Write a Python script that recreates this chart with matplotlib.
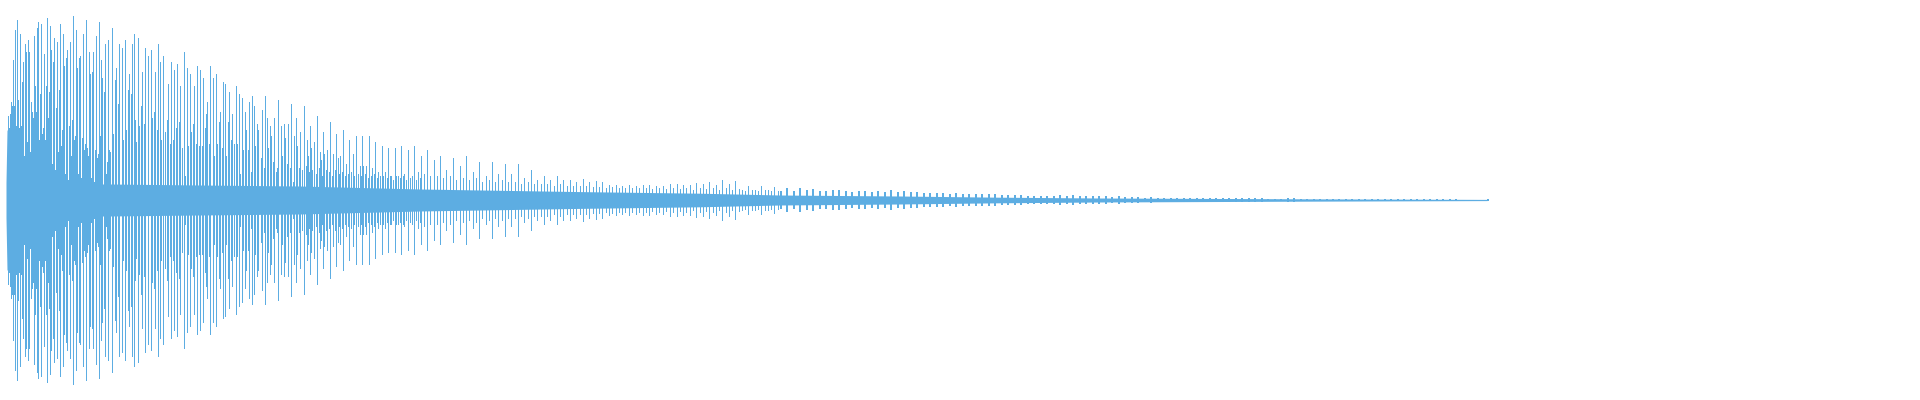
#!/usr/bin/env python3
"""
Waveform strip: per-column peak amplitudes drawn as thin vertical bars
around a zero line, on a blank 1920x400 canvas (no axes, no text).
"""

import numpy as np
import matplotlib
matplotlib.use("Agg")
import matplotlib.pyplot as plt

WAVE_COLOR = "#5DADE2"

# attack: one amplitude per sample column (0..1 of full scale), columns 6..109
attack_start = 6
attack_amp = [
    0.09, 0.42, 0.36, 0.43, 0.49, 0.47, 0.70, 0.47, 0.85, 0.37,
    0.90, 0.50, 0.36, 0.83, 0.37, 0.59, 0.69, 0.22, 0.78, 0.74,
    0.29, 0.80, 0.74, 0.24, 0.49, 0.44, 0.41, 0.82, 0.57, 0.44,
    0.86, 0.89, 0.30, 0.53, 0.88, 0.33, 0.36, 0.73, 0.30, 0.57,
    0.91, 0.41, 0.54, 0.87, 0.75, 0.18, 0.69, 0.81, 0.15, 0.46,
    0.79, 0.24, 0.55, 0.88, 0.27, 0.35, 0.83, 0.67, 0.13, 0.71,
    0.75, 0.10, 0.37, 0.79, 0.22, 0.40, 0.92, 0.30, 0.32, 0.85,
    0.66, 0.13, 0.71, 0.72, 0.11, 0.31, 0.83, 0.25, 0.28, 0.90,
    0.26, 0.22, 0.74, 0.63, 0.11, 0.64, 0.74, 0.09, 0.25, 0.82,
    0.21, 0.23, 0.89, 0.32, 0.70, 0.61, 0.06, 0.54, 0.78, 0.13,
    0.19, 0.80, 0.25, 0.24,
]

# decay: peak columns and their amplitudes
peak_x = [
    111, 112, 114, 115, 117, 118, 121, 122, 124, 125, 127, 128, 130, 131, 133,
    134, 135, 137, 138, 140, 141, 143, 144, 147, 150, 151, 153, 154, 156, 157,
    159, 160, 162, 164, 166, 167, 169, 170, 172, 173, 175, 176, 178, 179, 181,
    183, 184, 186, 187, 189, 190, 192, 193, 195, 196, 198, 199, 201, 202, 204,
    205, 206, 208, 209, 212, 213, 215, 216, 218, 219, 221, 222, 224, 225, 227,
    228, 230, 231, 233, 235, 236, 238, 239, 241, 242, 244, 245, 247, 248, 250,
    251, 253, 254, 256, 257, 260, 261, 263, 264, 266, 267, 269, 270, 272, 273,
    275, 276, 277, 280, 281, 283, 284, 286, 287, 289, 290, 292, 293, 295, 296,
    298, 299, 303, 306, 307, 309, 310, 313, 316, 319, 320, 322, 323, 326, 329,
    332, 335, 337, 339, 342, 345, 348, 352, 355, 359, 361, 362, 365, 368, 371,
    374, 377, 381, 384, 387, 390, 394, 397, 400, 403, 407, 413, 417, 420, 426,
    433, 439, 445, 452, 459, 465, 472, 478, 485, 491, 497, 504, 510, 517, 523,
    530, 536, 543, 549, 556, 562, 569, 575, 582, 588, 595, 601, 608, 615, 621,
    628, 635, 642, 648, 655, 662, 669, 676, 682, 689, 695, 702, 708, 715, 721,
    728, 734, 741, 747, 754, 760, 767, 773,
]
peak_amp = [
    0.86, 0.33, 0.60, 0.66, 0.48, 0.78, 0.76, 0.30, 0.80, 0.35, 0.55, 0.63, 0.53, 0.78, 0.83,
    0.40, 0.29, 0.81, 0.37, 0.47, 0.64, 0.38, 0.76, 0.72, 0.75, 0.41, 0.44, 0.64, 0.35, 0.78,
    0.69, 0.30, 0.72, 0.34, 0.40, 0.58, 0.28, 0.69, 0.30, 0.65, 0.36, 0.68, 0.39, 0.57, 0.26,
    0.74, 0.12, 0.66, 0.27, 0.63, 0.34, 0.38, 0.57, 0.28, 0.67, 0.27, 0.65, 0.27, 0.61, 0.36,
    0.43, 0.49, 0.28, 0.67, 0.61, 0.22, 0.63, 0.28, 0.39, 0.44, 0.26, 0.59, 0.58, 0.22, 0.39,
    0.54, 0.30, 0.43, 0.28, 0.57, 0.28, 0.53, 0.13, 0.51, 0.25, 0.44, 0.35, 0.25, 0.49, 0.14,
    0.52, 0.47, 0.27, 0.38, 0.35, 0.21, 0.45, 0.16, 0.52, 0.41, 0.26, 0.37, 0.32, 0.19, 0.41,
    0.14, 0.16, 0.50, 0.37, 0.22, 0.38, 0.31, 0.18, 0.38, 0.16, 0.48, 0.09, 0.32, 0.41, 0.27,
    0.16, 0.34, 0.47, 0.30, 0.22, 0.37, 0.26, 0.29, 0.42, 0.24, 0.20, 0.34, 0.23, 0.25, 0.39,
    0.23, 0.33, 0.21, 0.22, 0.35, 0.18, 0.30, 0.23, 0.32, 0.17, 0.32, 0.17, 0.17, 0.32, 0.16,
    0.29, 0.14, 0.27, 0.14, 0.26, 0.12, 0.26, 0.12, 0.27, 0.13, 0.25, 0.27, 0.14, 0.22, 0.25,
    0.20, 0.22, 0.15, 0.21, 0.17, 0.22, 0.14, 0.19, 0.12, 0.19, 0.13, 0.18, 0.13, 0.18, 0.11,
    0.15, 0.10, 0.12, 0.10, 0.12, 0.10, 0.10, 0.09, 0.105, 0.09, 0.095, 0.09, 0.075, 0.075, 0.07,
    0.075, 0.07, 0.075, 0.075, 0.07, 0.07, 0.08, 0.08, 0.075, 0.075, 0.085, 0.08, 0.09, 0.075, 0.10,
    0.08, 0.095, 0.05, 0.07, 0.05, 0.07, 0.05, 0.065,
]

# medium-height columns between the peaks (fuzzy band of the decay)
mid_x = [
    301, 305, 308, 311, 315, 318, 321, 325, 328, 331, 334, 338, 341, 344, 347, 350, 353, 357,
    360, 364, 367, 370, 373, 376, 379, 382, 386, 389, 392, 395, 399, 402, 405, 409, 411, 415, 419,
    423, 429, 436, 442, 449, 455, 462, 468, 475, 481, 488, 494, 501, 507, 514, 520, 527, 533,
    540, 546, 553, 559, 566, 572, 579,
    585, 592, 598, 605, 611, 618, 624, 631, 638, 645, 651, 658, 665, 672, 679, 685, 692, 699,
    705, 712, 718, 725, 731, 738, 744, 751, 757, 764, 770, 777,
]
mid_amp = [
    0.15, 0.17, 0.14, 0.15, 0.13, 0.16, 0.12, 0.15, 0.14, 0.12, 0.15, 0.13, 0.14, 0.12, 0.13, 0.14, 0.12, 0.13,
    0.12, 0.13, 0.11, 0.12, 0.13, 0.11, 0.12, 0.12, 0.11, 0.12, 0.10, 0.12, 0.11, 0.12, 0.10, 0.11, 0.12, 0.10, 0.11,
    0.13, 0.12, 0.12, 0.11, 0.12, 0.10, 0.11, 0.10, 0.11, 0.09, 0.10, 0.09, 0.10, 0.09, 0.09, 0.08, 0.09, 0.08,
    0.08, 0.08, 0.07, 0.08, 0.07, 0.07, 0.07,
    0.07, 0.065, 0.065, 0.06, 0.065, 0.06, 0.06, 0.06, 0.06, 0.06, 0.055, 0.06, 0.055, 0.06, 0.055, 0.06, 0.05, 0.06,
    0.055, 0.06, 0.05, 0.06, 0.05, 0.055, 0.045, 0.05, 0.045, 0.05, 0.045, 0.045,
]

# tail bursts (every ~6.5 columns), fading out
tail_x = [
    780, 786, 793, 799, 806, 812, 819, 825, 832, 838, 845, 851, 858, 864, 871,
    877, 884, 890, 897, 903, 910, 916, 923, 929, 936, 942, 949, 955, 962, 968,
    975, 981, 988, 994, 1001, 1007, 1014, 1020, 1027, 1033, 1040, 1046, 1053, 1059, 1066,
    1072, 1079, 1085, 1092, 1098, 1105, 1111, 1118, 1124, 1131, 1137, 1144, 1150, 1157, 1163,
    1170, 1176, 1183, 1189, 1196, 1202, 1209, 1215, 1222, 1228, 1235, 1241, 1248, 1254, 1261,
    1267, 1274, 1280, 1287, 1293, 1300, 1306, 1313, 1319, 1326, 1332, 1338, 1345, 1351, 1358,
    1364, 1371, 1377, 1384, 1390, 1397, 1403, 1410, 1416, 1423, 1429, 1436, 1442, 1449, 1455, 1487,
]
tail_amp = [
    0.045, 0.06, 0.045, 0.06, 0.05, 0.055, 0.045, 0.045, 0.05, 0.05, 0.045, 0.04, 0.045, 0.045, 0.04,
    0.045, 0.04, 0.05, 0.04, 0.045, 0.04, 0.04, 0.035, 0.035, 0.035, 0.035, 0.03, 0.035, 0.03, 0.03,
    0.03, 0.03, 0.028, 0.03, 0.025, 0.025, 0.025, 0.025, 0.022, 0.02, 0.022, 0.02, 0.02, 0.025, 0.02,
    0.025, 0.02, 0.018, 0.02, 0.018, 0.018, 0.015, 0.018, 0.015, 0.015, 0.015, 0.012, 0.015, 0.012, 0.012,
    0.012, 0.012, 0.01, 0.012, 0.01, 0.01, 0.01, 0.01, 0.008, 0.01, 0.008, 0.008, 0.008, 0.008, 0.008,
    0.007, 0.007, 0.007, 0.008, 0.008, 0.007, 0.007, 0.007, 0.007, 0.006, 0.006, 0.006, 0.006, 0.006, 0.006,
    0.006, 0.005, 0.005, 0.005, 0.005, 0.005, 0.005, 0.005, 0.004, 0.004, 0.004, 0.004, 0.004, 0.004, 0.004, 0.004,
]

# dense core of the waveform (the solid part around zero)
body_x = [6, 7, 22, 23, 30, 50, 52, 110, 200, 300, 420, 580, 700, 780, 900, 1000, 1100, 1300, 1487]
body_amp = [0.09, 0.35, 0.35, 0.21, 0.21, 0.15, 0.08, 0.08, 0.075, 0.07, 0.055, 0.042, 0.034,
            0.025, 0.02, 0.014, 0.01, 0.006, 0.003]


def main():
    fig = plt.figure(figsize=(19.2, 4.0), dpi=100)
    ax = fig.add_axes([0, 0, 1, 1])
    ax.set_xlim(0, 1920)
    ax.set_ylim(-1, 1)
    ax.axis("off")

    bx = np.asarray(body_x, dtype=float)
    ba = np.asarray(body_amp)
    ax.fill_between(bx, -ba, ba, color=WAVE_COLOR, linewidth=0, antialiased=False)

    # one bar per column: 1 px wide
    px1 = 72.0 / fig.dpi
    cols = attack_start + np.arange(len(attack_amp)) + 0.5
    a = np.asarray(attack_amp)
    ax.vlines(cols, -a, a, colors=WAVE_COLOR, linewidth=px1, antialiased=False)

    for xs, amps in ((peak_x, peak_amp), (mid_x, mid_amp)):
        x = np.asarray(xs) + 0.5
        h = np.asarray(amps)
        ax.vlines(x, -h, h, colors=WAVE_COLOR, linewidth=px1, antialiased=False)

    # tail bursts are a couple of columns wide
    tx = np.asarray(tail_x) + 1.0
    ta = np.asarray(tail_amp)
    ax.vlines(tx, -ta, ta, colors=WAVE_COLOR, linewidth=2 * px1, antialiased=False)

    fig.savefig("out.png", dpi=100, facecolor="white")
    plt.close(fig)


if __name__ == "__main__":
    main()
